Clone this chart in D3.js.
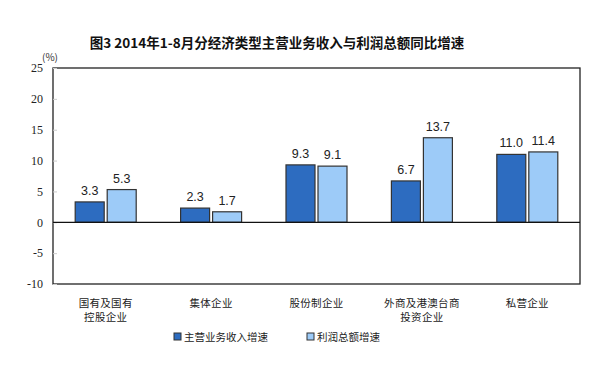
<!DOCTYPE html>
<html><head><meta charset="utf-8">
<script src="https://cdn.jsdelivr.net/npm/d3@7"></script>
<style>body{margin:0;background:#fff}svg{display:block}</style>
</head><body>
<svg id="c" width="600" height="371"></svg>
<script>
const title = "图3 2014年1-8月分经济类型主营业务收入与利润总额同比增速";
const categories = [["国有及国有","控股企业"],["集体企业"],["股份制企业"],["外商及港澳台商","投资企业"],["私营企业"]];
const seriesNames = ["主营业务收入增速","利润总额增速"];
const revenueGrowth = [3.3, 2.3, 9.3, 6.7, 11.0];
const profitGrowth = [5.3, 1.7, 9.1, 13.7, 11.4];
const yTicks = [-10,-5,0,5,10,15,20,25];
const colors = ["#2d6cc0","#9dcbf8"];

const svg = d3.select("#c");
const m = {l:53, r:580, t:68, b:284};
const x = d3.scaleBand().domain(d3.range(categories.length)).range([m.l, m.r]);
const y = d3.scaleLinear().domain([-10,25]).range([m.b, m.t]);
const barW = 29, gap = 3;
const series = [revenueGrowth, profitGrowth];

svg.append("text").attr("x",277).attr("y",48).attr("text-anchor","middle")
  .attr("font-family","Noto Sans CJK SC").attr("font-weight","bold").attr("font-size",13.5)
  .attr("fill","#111").text(title);

// frame
svg.append("rect").attr("x",m.l).attr("y",m.t).attr("width",m.r-m.l).attr("height",m.b-m.t)
  .attr("fill","none").attr("stroke","#222").attr("stroke-width",1.3);

// y axis labels
const yAxis = d3.axisLeft(y).tickValues(yTicks).tickSize(-4).tickPadding(10).tickFormat(d=>String(d));
const ya = svg.append("g").attr("transform",`translate(${m.l},0)`).call(yAxis);
ya.select(".domain").remove();
ya.selectAll("line").attr("stroke","#ccc");
ya.selectAll("text").attr("font-family","Liberation Serif").attr("font-size",12).attr("fill","#222");

svg.append("text").attr("x",42).attr("y",61).attr("font-family","Noto Sans CJK SC")
  .attr("font-size",10).attr("fill","#333").text("(%)");

// bars
series.forEach((vals,si)=>{
  const g = svg.append("g");
  g.selectAll("rect").data(vals).join("rect")
    .attr("x",(d,i)=>x(i)+x.bandwidth()/2 + (si===0 ? -gap/2-barW : gap/2))
    .attr("y",d=>y(Math.max(0,d)))
    .attr("width",barW)
    .attr("height",d=>Math.abs(y(d)-y(0)))
    .attr("fill",colors[si]).attr("stroke","#333").attr("stroke-width",1.2);
  g.selectAll("text").data(vals).join("text")
    .attr("x",(d,i)=>x(i)+x.bandwidth()/2 + (si===0 ? -gap/2-barW/2 : gap/2+barW/2))
    .attr("y",d=>y(d)-7)
    .attr("text-anchor","middle").attr("font-family","Liberation Sans").attr("font-size",12.5)
    .attr("fill","#222").text(d=>d.toFixed(1));
});

// zero line
svg.append("line").attr("x1",m.l).attr("x2",m.r).attr("y1",y(0)).attr("y2",y(0))
  .attr("stroke","#111").attr("stroke-width",1.3);

// category labels
categories.forEach((lines,i)=>{
  const t = svg.append("text").attr("text-anchor","middle").attr("font-family","Noto Sans CJK SC")
    .attr("font-size",10.5).attr("fill","#222").attr("letter-spacing",0.3);
  lines.forEach((s,j)=>t.append("tspan").attr("x",x(i)+x.bandwidth()/2).attr("y",307+j*13.5).text(s));
});

// legend
const legX = [174, 307];
seriesNames.forEach((n,i)=>{
  svg.append("rect").attr("x",legX[i]).attr("y",333).attr("width",7).attr("height",7)
    .attr("fill",colors[i]).attr("stroke","#333").attr("stroke-width",1);
  svg.append("text").attr("x",legX[i]+10).attr("y",341).attr("font-family","Noto Sans CJK SC")
    .attr("font-size",10.5).attr("letter-spacing",0).attr("fill","#222").text(n);
});
</script>
</body></html>
